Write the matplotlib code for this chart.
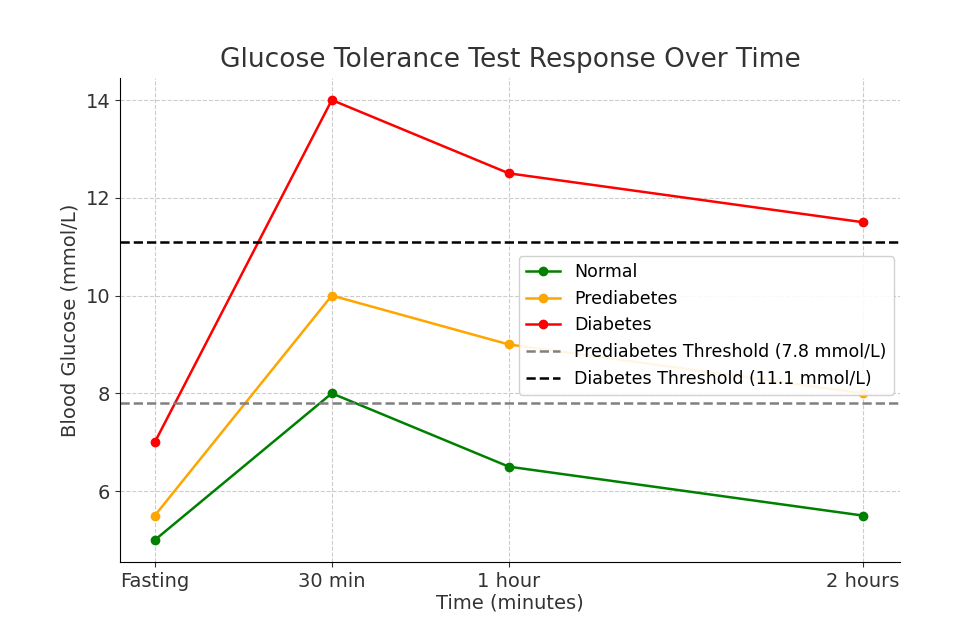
import matplotlib
matplotlib.use("Agg")
import matplotlib.pyplot as plt

times = [0, 30, 60, 120]
tick_labels = ["Fasting", "30 min", "1 hour", "2 hours"]
normal = [5.0, 8.0, 6.5, 5.5]
prediabetes = [5.5, 10.0, 9.0, 8.0]
diabetes = [7.0, 14.0, 12.5, 11.5]
pre_thr = 7.8
dia_thr = 11.1

fig = plt.figure(figsize=(9.79, 6.23), dpi=100)
ax = fig.add_axes([120/979, 1-562/623, 780/979, 484/623])
ax.plot(times, normal, marker="o", color="green", label="Normal", lw=1.8)
ax.plot(times, prediabetes, marker="o", color="orange", label="Prediabetes", lw=1.8)
ax.plot(times, diabetes, marker="o", color="red", label="Diabetes", lw=1.8)
ax.axhline(pre_thr, color="gray", ls="--", lw=1.8, label="Prediabetes Threshold (7.8 mmol/L)")
ax.axhline(dia_thr, color="black", ls="--", lw=1.8, label="Diabetes Threshold (11.1 mmol/L)")
ax.set_xlim(-5.9, 126.3)
ax.set_ylim(4.55, 14.45)
ax.set_xticks(times)
ax.set_xticklabels(tick_labels)
ax.set_yticks([6, 8, 10, 12, 14])
ax.tick_params(labelsize=14, colors="#333333")
ax.grid(True, ls="--", color="#cccccc", lw=0.8)
for s in ["top", "right"]:
    ax.spines[s].set_visible(False)
ax.set_title("Glucose Tolerance Test Response Over Time", fontsize=19, color="#333333", pad=8)
ax.set_xlabel("Time (minutes)", fontsize=14, color="#333333", labelpad=2)
ax.set_ylabel("Blood Glucose (mmol/L)", fontsize=14, color="#333333")
ax.legend(loc="upper left", bbox_to_anchor=(0.5, 0.65), fontsize=12.5, framealpha=0.9)
fig.savefig("out.png", dpi=100)
